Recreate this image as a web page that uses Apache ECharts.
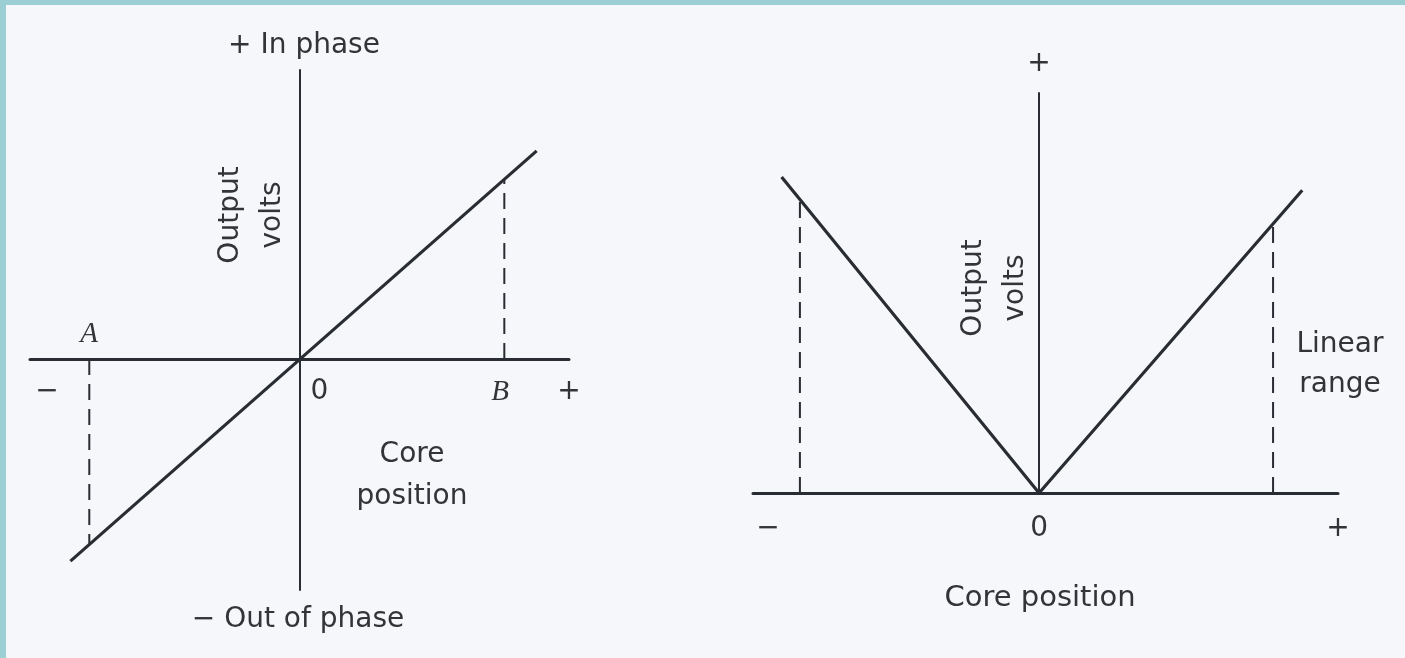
<!DOCTYPE html>
<html>
<head>
<meta charset="utf-8">
<title>LVDT output</title>
<script src="https://cdn.jsdelivr.net/npm/echarts@6/dist/echarts.min.js"></script>
<style>
  html, body { margin: 0; padding: 0; background: #9ccfd3; }
  #main {
    position: absolute; left: 6px; top: 5px;
    width: 1399px; height: 653px; background: #f6f7fa;
  }
</style>
</head>
<body>
<div id="main"></div>
<script>
// left panel: phase sensitive output, core position -1..1
const leftTicks = [-1, 0, 1]
const leftTickLabels = ['−', '0', '+']
const leftOutput = [[-0.85, -0.70], [0.88, 0.72]]
const leftLimitA = [[-0.78, 0], [-0.78, -0.64]]
const leftLimitB = [[0.76, 0], [0.76, 0.62]]

// right panel: rectified output (V shape)
const rightTicks = [-1, 0, 1.045]
const rightTickLabels = ['−', '0', '+']
const rightOutput = [[-0.90, 0.79], [0, 0], [0.92, 0.757]]
const rightLimitL = [[-0.836, 0], [-0.836, 0.73]]
const rightLimitR = [[0.818, 0], [0.818, 0.67]]

const ink = '#2a2c33'
const txt = '#333438'
const font = 'DejaVu Sans'
// the whole picture is offset by the border div
const ox = 6, oy = 5

// left grid geometry, labels have to sit under the zero line, not the grid bottom
const lg = {left: 30, top: 70, width: 539, height: 520, ymin: -0.8, ymax: 1}
const leftZeroDrop = lg.height * (0 - lg.ymin) / (lg.ymax - lg.ymin)

function labelFmt(ticks, labels) {
  return function (v) {
    const i = ticks.findIndex(t => Math.abs(t - v) < 1e-6)
    if (i < 0) return ''
    return '{t' + i + '|' + labels[i] + '}'
  }
}

function textEl(str, x, y, extra) {
  return Object.assign({
    type: 'text',
    x: x - ox, y: y - oy,
    style: {
      text: str, fill: txt, font: '28px "' + font + '"',
      textAlign: 'center', textVerticalAlign: 'middle'
    }
  }, extra || {})
}

const chart = echarts.init(document.getElementById('main'))

const option = {
  animation: false,
  grid: [
    {left: lg.left - ox, top: lg.top - oy, width: lg.width, height: lg.height},
    {left: 753 - ox, top: 93 - oy, width: 585, height: 400}
  ],
  xAxis: [
    {
      gridIndex: 0, type: 'value', min: -1, max: 1,
      axisLine: {onZero: true, lineStyle: {color: ink, width: 3}},
      axisTick: {show: false},
      splitLine: {show: false},
      axisLabel: {
        customValues: leftTicks,
        margin: 19 - leftZeroDrop,
        formatter: labelFmt(leftTicks, leftTickLabels),
        rich: {
          t0: {fontSize: 28, fontFamily: font, color: txt, padding: [0, 0, 0, 34]},
          t1: {fontSize: 28, fontFamily: font, color: txt, padding: [0, 0, 0, 40]},
          t2: {fontSize: 28, fontFamily: font, color: txt}
        }
      }
    },
    {
      gridIndex: 1, type: 'value', min: -1, max: 1.045,
      axisLine: {onZero: true, lineStyle: {color: ink, width: 3}},
      axisTick: {show: false},
      splitLine: {show: false},
      axisLabel: {
        customValues: rightTicks,
        margin: 22,
        formatter: labelFmt(rightTicks, rightTickLabels),
        rich: {
          t0: {fontSize: 28, fontFamily: font, color: txt, padding: [0, 0, 0, 30]},
          t1: {fontSize: 28, fontFamily: font, color: txt},
          t2: {fontSize: 28, fontFamily: font, color: txt}
        }
      }
    }
  ],
  yAxis: [
    {
      gridIndex: 0, type: 'value', min: lg.ymin, max: lg.ymax,
      axisLine: {onZero: true, lineStyle: {color: ink, width: 2}},
      axisTick: {show: false}, axisLabel: {show: false}, splitLine: {show: false}
    },
    {
      gridIndex: 1, type: 'value', min: 0, max: 1,
      axisLine: {onZero: true, lineStyle: {color: ink, width: 2}},
      axisTick: {show: false}, axisLabel: {show: false}, splitLine: {show: false}
    }
  ],
  series: [
    {type: 'line', xAxisIndex: 0, yAxisIndex: 0, data: leftOutput, symbol: 'none',
      lineStyle: {color: ink, width: 3.2}},
    {type: 'line', xAxisIndex: 0, yAxisIndex: 0, data: leftLimitA, symbol: 'none',
      lineStyle: {color: ink, width: 2, type: [16, 9]}},
    {type: 'line', xAxisIndex: 0, yAxisIndex: 0, data: leftLimitB, symbol: 'none',
      lineStyle: {color: ink, width: 2, type: [16, 9]}},
    {type: 'line', xAxisIndex: 1, yAxisIndex: 1, data: rightOutput, symbol: 'none',
      lineStyle: {color: ink, width: 3.2}},
    {type: 'line', xAxisIndex: 1, yAxisIndex: 1, data: rightLimitL, symbol: 'none',
      lineStyle: {color: ink, width: 2, type: [16, 9]}},
    {type: 'line', xAxisIndex: 1, yAxisIndex: 1, data: rightLimitR, symbol: 'none',
      lineStyle: {color: ink, width: 2, type: [16, 9]}}
  ],
  graphic: [
    // left panel texts
    textEl('+ In phase', 304, 46),
    textEl('− Out of phase', 298, 620),
    textEl('Output\nvolts', 252, 215, {rotation: Math.PI / 2,
      style: {text: 'Output\nvolts', fill: txt, font: '28px "' + font + '"',
        textAlign: 'center', textVerticalAlign: 'middle', lineHeight: 42}}),
    textEl('Core\nposition', 412, 476, {
      style: {text: 'Core\nposition', fill: txt, font: '28px "' + font + '"',
        textAlign: 'center', textVerticalAlign: 'middle', lineHeight: 42}}),
    textEl('A', 89, 334, {style: {text: 'A', fill: txt, font: 'italic 29px "Liberation Serif"',
      textAlign: 'center', textVerticalAlign: 'middle'}}),
    textEl('B', 500, 392, {style: {text: 'B', fill: txt, font: 'italic 29px "Liberation Serif"',
      textAlign: 'center', textVerticalAlign: 'middle'}}),
    // right panel texts
    textEl('+', 1039, 64),
    textEl('Output\nvolts', 995, 288, {rotation: Math.PI / 2,
      style: {text: 'Output\nvolts', fill: txt, font: '28px "' + font + '"',
        textAlign: 'center', textVerticalAlign: 'middle', lineHeight: 42}}),
    textEl('Core position', 1040, 598, {
      style: {text: 'Core position', fill: txt, font: '29px "' + font + '"',
        textAlign: 'center', textVerticalAlign: 'middle'}}),
    textEl('Linear\nrange', 1340, 365, {
      style: {text: 'Linear\nrange', fill: txt, font: '28px "' + font + '"',
        textAlign: 'center', textVerticalAlign: 'middle', lineHeight: 40}})
  ]
}

chart.setOption(option)
</script>
</body>
</html>
